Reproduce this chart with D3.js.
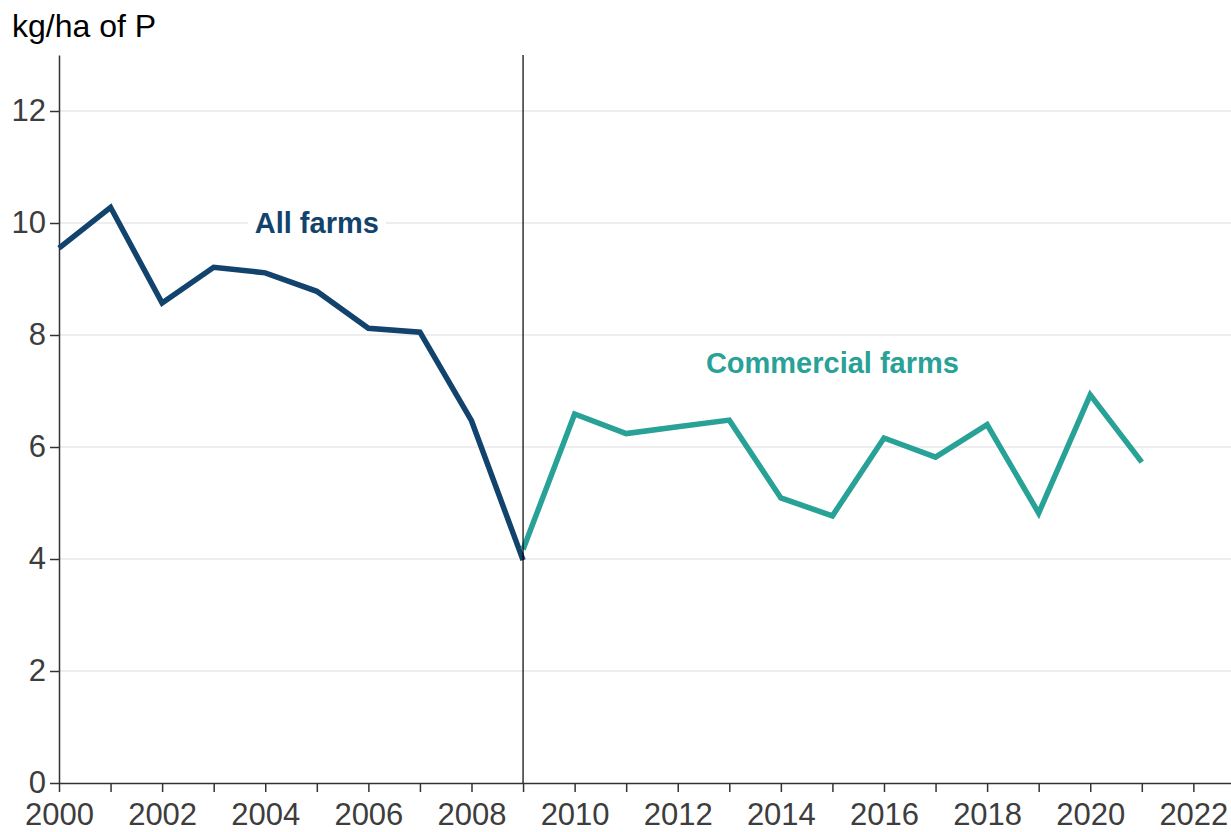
<!DOCTYPE html>
<html>
<head>
<meta charset="utf-8">
<script src="https://cdn.jsdelivr.net/npm/d3@7"></script>
<style>
  body { margin: 0; background: #fff; }
  text { font-family: "Liberation Sans", Arial, sans-serif; }
</style>
</head>
<body>
<script>
// data
var allYears = [2000, 2001, 2002, 2003, 2004, 2005, 2006, 2007, 2008, 2009];
var allFarms = [9.55, 10.28, 8.57, 9.21, 9.11, 8.78, 8.12, 8.05, 6.47, 3.98];
var comYears = [2009, 2010, 2011, 2012, 2013, 2014, 2015, 2016, 2017, 2018, 2019, 2020, 2021];
var comFarms = [4.17, 6.59, 6.24, 6.36, 6.48, 5.09, 4.77, 6.16, 5.82, 6.40, 4.82, 6.93, 5.73];
var yTicks = [0, 2, 4, 6, 8, 10, 12];
var xTicks = d3.range(2000, 2023);
var breakYear = 2009;

var width = 1231;
var height = 832;

var svg = d3.select("body")
	.append("svg")
	.attr("width", width)
	.attr("height", height);

var x = d3.scaleLinear()
	.domain([2000, 2022.73])
	.range([59, 1231]);

var y = d3.scaleLinear()
	.domain([0, 13])
	.range([783, 55]);

// gridlines
svg.append("g")
	.selectAll("line")
	.data(yTicks.filter(function (d) { return d > 0; }))
	.enter()
	.append("line")
	.attr("x1", x(2000))
	.attr("x2", width)
	.attr("y1", function (d) { return y(d); })
	.attr("y2", function (d) { return y(d); })
	.attr("stroke", "#e9e9e9")
	.attr("stroke-width", 1.5);

// y axis
var yAxis = svg.append("g")
	.attr("transform", "translate(" + x(2000) + ",0)")
	.call(d3.axisLeft(y).tickValues(yTicks).tickSize(9).tickSizeOuter(0).tickPadding(4));

// x axis
var xAxis = svg.append("g")
	.attr("transform", "translate(0," + y(0) + ")")
	.call(d3.axisBottom(x).tickValues(xTicks).tickSize(9).tickSizeOuter(0).tickPadding(11)
		.tickFormat(function (d) { return d % 2 === 0 ? d : ""; }));

[yAxis, xAxis].forEach(function (a) {
	a.selectAll("path").attr("stroke", "#333").attr("stroke-width", 1.5);
	a.selectAll("line").attr("stroke", "#333").attr("stroke-width", 1.5);
	a.selectAll("text")
		.attr("fill", "#3d3d3d")
		.style("font-size", "31px")
		.style("font-family", "'Liberation Sans', Arial, sans-serif");
});

var line = d3.line()
	.x(function (d) { return x(d[0]); })
	.y(function (d) { return y(d[1]); });

svg.append("path")
	.datum(d3.zip(allYears, allFarms))
	.attr("d", line)
	.attr("fill", "none")
	.attr("stroke", "#12436D")
	.attr("stroke-width", 5.5);

svg.append("path")
	.datum(d3.zip(comYears, comFarms))
	.attr("d", line)
	.attr("fill", "none")
	.attr("stroke", "#28A197")
	.attr("stroke-width", 5.5);

// break line
svg.append("line")
	.attr("x1", x(breakYear))
	.attr("x2", x(breakYear))
	.attr("y1", y(13))
	.attr("y2", y(0))
	.attr("stroke", "#000")
	.attr("stroke-width", 1.2);

// series labels
function addLabel(text, xv, yv, colour) {
	var g = svg.append("g");
	var bg = g.append("rect").attr("fill", "#fff");
	var t = g.append("text")
		.attr("x", x(xv))
		.attr("y", y(yv))
		.attr("dy", "0.35em")
		.attr("text-anchor", "middle")
		.attr("font-weight", "bold")
		.attr("font-size", "29px")
		.attr("fill", colour)
		.text(text);
	var b = t.node().getBBox();
	bg.attr("x", b.x - 7).attr("y", b.y).attr("width", b.width + 14).attr("height", b.height);
}
addLabel("All farms", 2005, 10, "#12436D");
addLabel("Commercial farms", 2015, 7.5, "#28A197");

// unit title
svg.append("text")
	.attr("x", 12)
	.attr("y", 37)
	.attr("font-size", "32px")
	.attr("fill", "#000")
	.text("kg/ha of P");
</script>
</body>
</html>
